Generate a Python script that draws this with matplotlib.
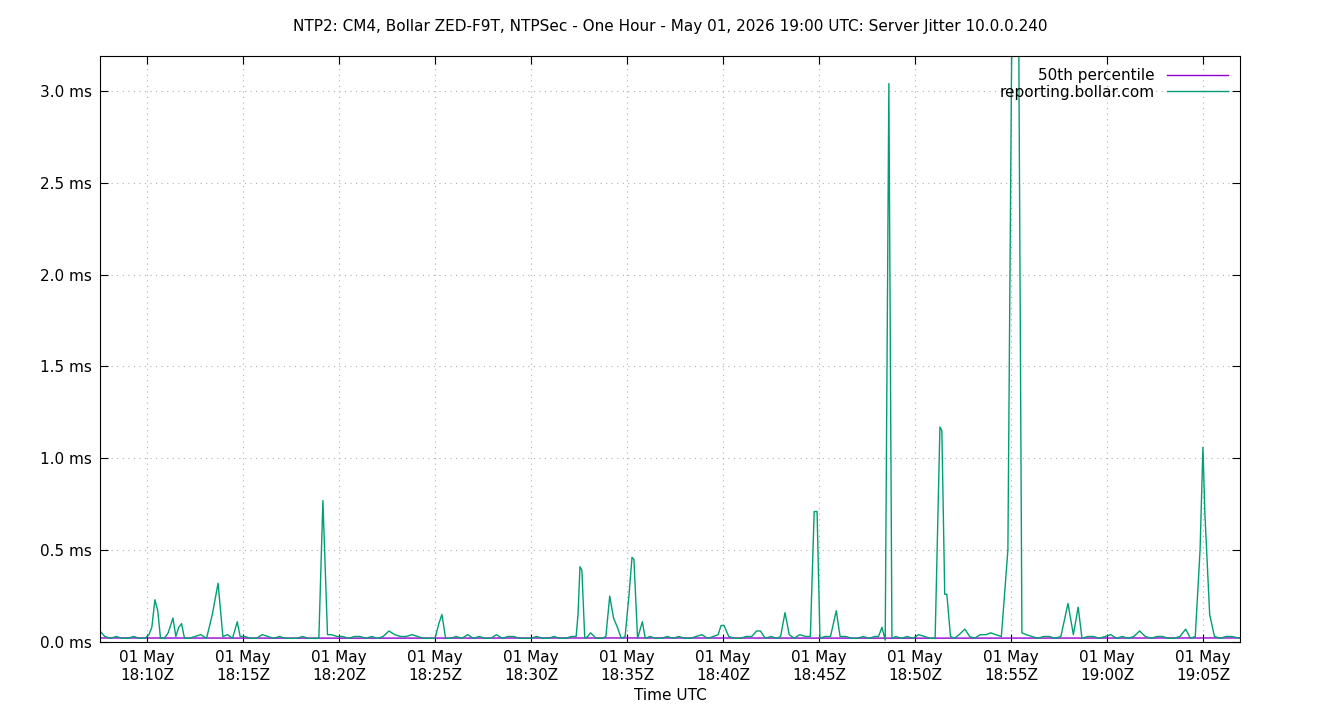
import matplotlib
matplotlib.use("Agg")
import matplotlib.pyplot as plt

# minutes after 18:00 UTC, jitter in ms
jit_t = [7.55, 7.8, 8.1, 8.4, 8.7, 9.0, 9.3, 9.6, 9.9, 10.1, 10.25, 10.41, 10.56, 10.7, 10.9,
         11.1, 11.35, 11.5, 11.65, 11.8, 11.95, 12.2, 12.5, 12.8, 13.1, 13.4, 13.7, 13.95, 14.2,
         14.45, 14.7, 14.85, 15.1, 15.4, 15.7, 16.0, 16.3, 16.6, 16.9, 17.2, 17.5, 17.8, 18.1,
         18.4, 18.7, 18.95, 19.16, 19.4, 19.6, 19.9, 20.2, 20.5, 20.8, 21.1, 21.4, 21.7, 22.0,
         22.3, 22.6, 22.9, 23.2, 23.5, 23.8, 24.1, 24.4, 24.7, 25.0, 25.2, 25.36, 25.55, 25.8,
         26.1, 26.4, 26.7, 27.0, 27.3, 27.6, 27.9, 28.2, 28.5, 28.8, 29.1, 29.4, 29.7, 30.0,
         30.3, 30.6, 30.9, 31.2, 31.5, 31.8, 32.1, 32.35, 32.45, 32.55, 32.65, 32.8, 32.95, 33.1,
         33.4, 33.7, 33.9, 34.1, 34.3, 34.5, 34.7, 34.9, 35.1, 35.26, 35.36, 35.55, 35.8, 35.95,
         36.2, 36.5, 36.8, 37.1, 37.4, 37.7, 38.0, 38.3, 38.6, 38.9, 39.2, 39.5, 39.75, 39.9,
         40.05, 40.3, 40.6, 40.9, 41.2, 41.5, 41.75, 41.95, 42.2, 42.5, 42.8, 43.0, 43.23, 43.45,
         43.7, 44.0, 44.3, 44.55, 44.75, 44.9, 45.05, 45.3, 45.6, 45.9, 46.1, 46.4, 46.7, 47.0,
         47.3, 47.6, 47.9, 48.1, 48.28, 48.45, 48.64, 48.8, 49.0, 49.3, 49.6, 49.9, 50.2, 50.5,
         50.8, 51.05, 51.3, 51.4, 51.55, 51.66, 51.85, 52.05, 52.3, 52.6, 52.85, 53.1, 53.4,
         53.7, 53.95, 54.2, 54.5, 54.84, 55.05, 55.2, 55.4, 55.57, 55.8, 56.1, 56.4, 56.7, 57.0,
         57.3, 57.6, 57.97, 58.25, 58.5, 58.7, 59.0, 59.3, 59.6, 59.9, 60.2, 60.5, 60.8, 61.1,
         61.4, 61.7, 62.0, 62.3, 62.6, 62.9, 63.2, 63.5, 63.8, 64.1, 64.35, 64.6, 64.85, 65.0,
         65.1, 65.35, 65.6, 65.9, 66.2, 66.5, 66.93]
jit_v = [0.06, 0.03, 0.02, 0.03, 0.02, 0.02, 0.03, 0.02, 0.02, 0.04, 0.08, 0.23, 0.17, 0.02, 0.02,
         0.05, 0.13, 0.03, 0.08, 0.10, 0.02, 0.02, 0.03, 0.04, 0.02, 0.15, 0.32, 0.03, 0.04,
         0.02, 0.11, 0.03, 0.03, 0.02, 0.02, 0.04, 0.03, 0.02, 0.03, 0.02, 0.02, 0.02, 0.03,
         0.02, 0.02, 0.02, 0.77, 0.04, 0.04, 0.03, 0.03, 0.02, 0.03, 0.03, 0.02, 0.03, 0.02,
         0.03, 0.06, 0.04, 0.03, 0.03, 0.04, 0.03, 0.02, 0.02, 0.02, 0.10, 0.15, 0.02, 0.02,
         0.03, 0.02, 0.04, 0.02, 0.03, 0.02, 0.02, 0.04, 0.02, 0.03, 0.03, 0.02, 0.02, 0.02,
         0.03, 0.02, 0.02, 0.03, 0.02, 0.02, 0.03, 0.03, 0.15, 0.41, 0.39, 0.02, 0.03, 0.05,
         0.02, 0.02, 0.03, 0.25, 0.13, 0.08, 0.02, 0.03, 0.25, 0.46, 0.45, 0.02, 0.11, 0.02,
         0.03, 0.02, 0.02, 0.03, 0.02, 0.03, 0.02, 0.02, 0.03, 0.04, 0.02, 0.03, 0.04, 0.09,
         0.09, 0.03, 0.02, 0.02, 0.03, 0.03, 0.06, 0.06, 0.02, 0.03, 0.02, 0.03, 0.16, 0.04,
         0.02, 0.04, 0.03, 0.03, 0.71, 0.71, 0.02, 0.03, 0.03, 0.17, 0.03, 0.03, 0.02, 0.02,
         0.03, 0.02, 0.03, 0.03, 0.08, 0.01, 3.04, 0.02, 0.03, 0.02, 0.03, 0.02, 0.04, 0.03,
         0.02, 0.02, 1.17, 1.15, 0.26, 0.26, 0.03, 0.02, 0.04, 0.07, 0.03, 0.02, 0.04,
         0.04, 0.05, 0.04, 0.03, 0.50, 3.40, 3.50, 3.40, 0.05, 0.04, 0.03, 0.02, 0.03, 0.03,
         0.02, 0.03, 0.21, 0.04, 0.19, 0.02, 0.03, 0.03, 0.02, 0.03, 0.04, 0.02, 0.03, 0.02,
         0.03, 0.06, 0.03, 0.02, 0.03, 0.03, 0.02, 0.02, 0.03, 0.07, 0.02, 0.03, 0.50, 1.06,
         0.70, 0.15, 0.03, 0.02, 0.03, 0.03, 0.02]

p50_t = [7.55, 20.0, 35.0, 50.0, 66.93]
p50_v = [0.022, 0.021, 0.022, 0.021, 0.022]

tick_min = [10, 15, 20, 25, 30, 35, 40, 45, 50, 55, 60, 65]
tick_lbl = ["01 May\n18:%02dZ" % m if m < 60 else "01 May\n19:%02dZ" % (m - 60) for m in tick_min]
y_ticks = [0.0, 0.5, 1.0, 1.5, 2.0, 2.5, 3.0]

fig = plt.figure(figsize=(13.4, 7.2), dpi=100)
ax = fig.add_axes([100 / 1340, 1 - 642 / 720, 1140 / 1340, 586 / 720])

ax.plot(p50_t, p50_v, color="#9400d3", lw=1, label="50th percentile")
ax.plot(jit_t, jit_v, color="#009e73", lw=1, label="reporting.bollar.com")

ax.set_xlim(7.55, 66.93)
ax.set_ylim(0, 3.19)
ax.set_xticks(tick_min)
ax.set_xticklabels(tick_lbl, fontsize=11)
ax.set_yticks(y_ticks)
ax.set_yticklabels(["%.1f ms" % v for v in y_ticks], fontsize=11)
ax.tick_params(direction="in", top=True, right=True, length=6, pad=6)
ax.grid(True, color="#b0b0b0", ls=(0, (1, 4)), lw=0.8)
ax.set_xlabel("Time UTC", fontsize=11)
ax.set_title("NTP2: CM4, Bollar ZED-F9T, NTPSec - One Hour - May 01, 2026 19:00 UTC: Server Jitter 10.0.0.240",
             fontsize=11, pad=18)

leg = ax.legend(loc="upper right", frameon=False, fontsize=11, markerfirst=False,
                handlelength=4, borderaxespad=0.4, labelspacing=0.1)

fig.savefig("out.png", dpi=100)
